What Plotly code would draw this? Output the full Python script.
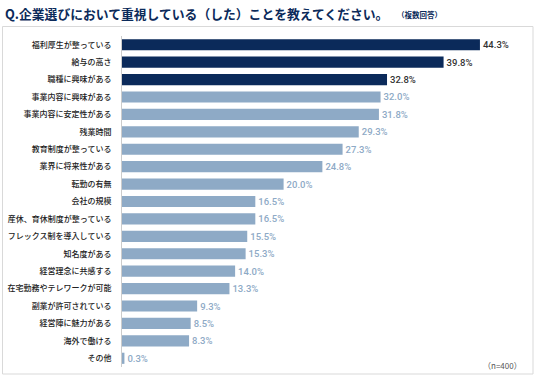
import plotly.graph_objects as go

categories = ["福利厚生が整っている", "給与の高さ", "職種に興味がある", "事業内容に興味がある",
              "事業内容に安定性がある", "残業時間", "教育制度が整っている", "業界に将来性がある",
              "転勤の有無", "会社の規模", "産休、育休制度が整っている", "フレックス制を導入している",
              "知名度がある", "経営理念に共感する", "在宅勤務やテレワークが可能", "副業が許可されている",
              "経営陣に魅力がある", "海外で働ける", "その他"]
values = [44.3, 39.8, 32.8, 32.0, 31.8, 29.3, 27.3, 24.8, 20.0, 16.5, 16.5, 15.5, 15.3, 14.0, 13.3, 9.3, 8.5, 8.3, 0.3]
highlight_top = 3

NAVY = "#0b2a5a"
LIGHT = "#8eaac6"
bar_colors = [NAVY if i < highlight_top else LIGHT for i in range(len(values))]
text_colors = ["#333333" if i < highlight_top else LIGHT for i in range(len(values))]
labels = [f"{v:.1f}%" for v in values]

W, H = 536, 378
L, R, T, B = 122, 6, 36, 11
pw, ph = W - L - R, H - T - B

def px_x(x):
    return (x - L) / pw

def px_y(y):
    return (H - B - y) / ph

fig = go.Figure(go.Bar(
    x=values, y=categories, orientation="h",
    marker=dict(color=bar_colors, line=dict(width=0)),
    text=labels, textposition="outside", cliponaxis=False,
    textfont=dict(color=text_colors, size=9.5, family="Roboto", weight=500),
    width=0.64,
))

fig.update_layout(
    width=W, height=H,
    margin=dict(l=L, r=R, t=T, b=B, autoexpand=False),
    paper_bgcolor="white", plot_bgcolor="white",
    showlegend=False,
    font=dict(family="Noto Sans CJK JP", color="#333333"),
    xaxis=dict(range=[0, pw / 8.08], visible=False, automargin=False),
    yaxis=dict(autorange="reversed", showline=True, linecolor="#cccccc", linewidth=1,
               ticks="", ticklabelstandoff=8, automargin=False,
               tickfont=dict(size=8, color="#222222", family="Noto Sans CJK JP", weight=500),
               showgrid=False, zeroline=False),
    shapes=[dict(type="rect", xref="paper", yref="paper",
                 x0=px_x(2.5), x1=px_x(533), y0=px_y(374), y1=px_y(26.5),
                 line=dict(color="#d9d9d9", width=1), fillcolor="rgba(0,0,0,0)", layer="below")],
    annotations=[
        dict(text="<b>Q.企業選びにおいて重視している（した）ことを教えてください。</b>",
             xref="paper", yref="paper", x=px_x(3), y=px_y(13.5), xanchor="left", yanchor="middle",
             showarrow=False, font=dict(size=12.8, color=NAVY, family="Noto Sans CJK JP")),
        dict(text="<b>（複数回答）</b>",
             xref="paper", yref="paper", x=px_x(395), y=px_y(14.5), xanchor="left", yanchor="middle",
             showarrow=False, font=dict(size=7.5, color=NAVY, family="Noto Sans CJK JP")),
        dict(text="（n=400）",
             xref="paper", yref="paper", x=px_x(524), y=px_y(365), xanchor="right", yanchor="middle",
             showarrow=False, font=dict(size=8, color="#555555", family="Noto Sans CJK JP")),
    ],
)

fig.write_html("out.html", config={"displayModeBar": False},
               post_script="document.body.style.margin='0';document.body.style.overflow='hidden';")
